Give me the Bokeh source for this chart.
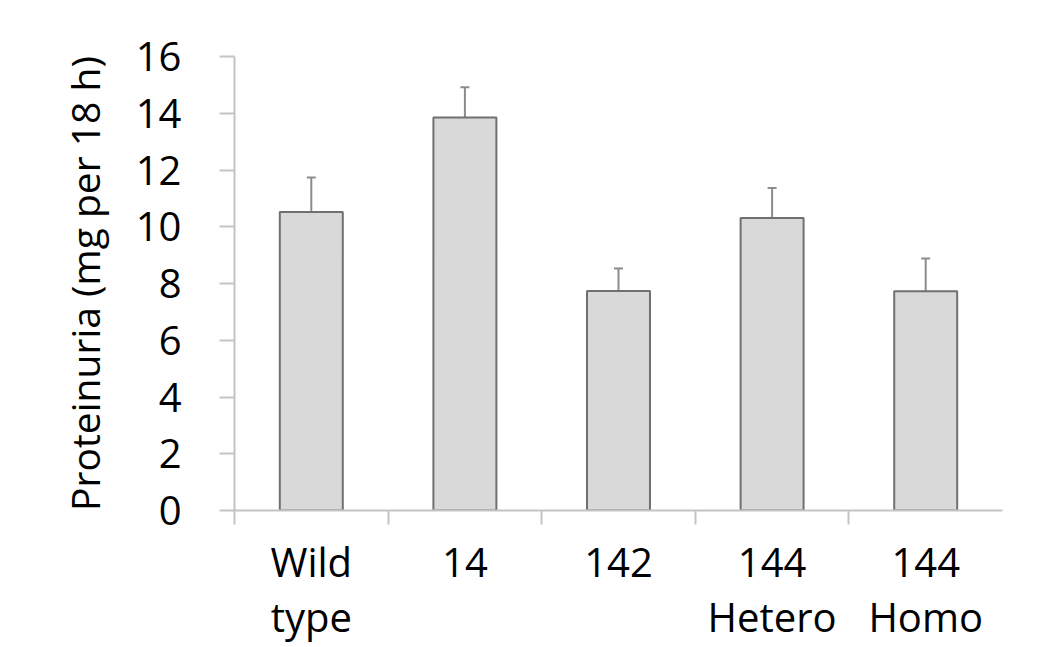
from bokeh.plotting import figure
from bokeh.models import Range1d, FixedTicker, Whisker, TeeHead, ColumnDataSource
from bokeh.embed import file_html
from bokeh.resources import INLINE

categories = ["Wild\ntype", "14", "142", "144\nHetero", "144\nHomo"]
means = [10.52, 13.85, 7.74, 10.31, 7.73]
err_upper = [11.74, 14.92, 8.53, 11.37, 8.88]
err_lower = [9.30, 12.76, 6.98, 9.24, 6.58]
y_ticks = [0, 2, 4, 6, 8, 10, 12, 14, 16]

xs = [i + 0.5 for i in range(len(categories))]
bounds = [float(i) for i in range(len(categories))]

src = ColumnDataSource(dict(x=xs, top=means, upper=err_upper, lower=err_lower))

FONT = "Open Sans"
AX = "#c4c4c4"

p = figure(frame_width=768, frame_height=454,
           x_range=Range1d(0, len(categories)), y_range=Range1d(0, 16),
           output_backend="svg", toolbar_location=None,
           min_border_left=234, min_border_top=56, min_border_right=30,
           min_border_bottom=0)
p.outline_line_color = None
p.xgrid.visible = False
p.ygrid.visible = False
p.background_fill_color = "white"
p.border_fill_color = "white"

p.vbar(x="x", top="top", bottom=0, width=0.41, source=src,
       fill_color="#d9d9d9", line_color="#707070", line_width=2)

wh = Whisker(base="x", upper="upper", lower="lower", source=src,
             line_color="#8c8c8c", line_width=2,
             upper_head=TeeHead(size=9, line_color="#8c8c8c", line_width=2),
             lower_head=TeeHead(size=9, line_color="#8c8c8c", line_width=2))
p.add_layout(wh)

# x axis
xa = p.xaxis[0]
xa.ticker = FixedTicker(ticks=xs, minor_ticks=bounds)
xa.major_label_overrides = {x: c for x, c in zip(xs, categories)}
xa.major_tick_out = 0
xa.major_tick_in = 0
xa.minor_tick_out = 14
xa.minor_tick_in = 0
xa.minor_tick_line_color = AX
xa.minor_tick_line_width = 2
xa.axis_line_color = AX
xa.axis_line_width = 2
xa.major_label_text_font = FONT
xa.major_label_text_font_size = "40px"
xa.major_label_text_color = "black"
xa.major_label_text_line_height = 1.0
xa.major_label_standoff = 9

# y axis
ya = p.yaxis[0]
ya.ticker = FixedTicker(ticks=y_ticks)
ya.minor_tick_line_color = None
ya.major_tick_out = 15
ya.major_tick_in = 0
ya.major_tick_line_color = AX
ya.major_tick_line_width = 2
ya.axis_line_color = AX
ya.axis_line_width = 2
ya.major_label_text_font = FONT
ya.major_label_text_font_size = "40px"
ya.major_label_text_color = "black"
ya.major_label_standoff = 38
ya.axis_label = "Proteinuria (mg per 18 h)"
ya.axis_label_text_font = FONT
ya.axis_label_text_font_size = "39px"
ya.axis_label_text_font_style = "normal"
ya.axis_label_text_color = "black"
ya.axis_label_standoff = 22

open("out.html", "w").write(file_html(p, INLINE))
